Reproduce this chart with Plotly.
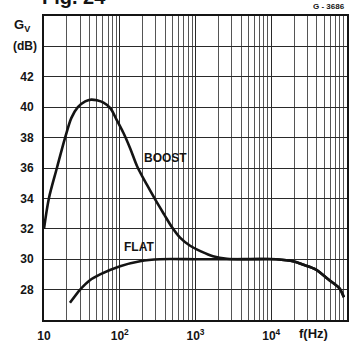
import plotly.graph_objects as go

# ---- data ----
boost_f = [10, 11.6, 14.8, 19, 23, 28, 35, 42, 50, 61, 75, 91, 112, 137, 170, 228, 300, 385, 490, 630, 840,
           1200, 1700, 2600, 5000, 11600, 20000, 26000, 39000, 57000, 79000, 91000]
boost_g = [32, 34, 36, 38, 39.3, 40, 40.38, 40.5, 40.45, 40.3, 39.94, 39.17, 38.3, 37.3, 36.1, 34.9, 33.85, 32.95, 32.1,
           31.4, 30.9, 30.5, 30.2, 30.03, 30.0, 30.0, 29.85, 29.65, 29.32, 28.66, 28.1, 27.5]
flat_f = [22, 30, 40, 55, 101, 185, 340, 1000, 3000, 11600, 20000, 26000, 39000, 57000, 79000, 91000]
flat_g = [27.13, 28.0, 28.6, 29.0, 29.54, 29.87, 30.0, 30.0, 30.0, 30.0, 29.85, 29.65, 29.32, 28.66, 28.1, 27.5]

y_ticks = [28, 30, 32, 34, 36, 38, 40, 42]
x_major = [10, 100, 1000, 10000, 100000]
x_major_text = ["10", "10<sup>2</sup>", "10<sup>3</sup>", "10<sup>4</sup>", ""]
x_minor = [m * d for d in [10, 100, 1000, 10000] for m in range(2, 10)]

INK = "#141414"
FONT = "Liberation Sans"

fig = go.Figure()
fig.add_trace(go.Scatter(x=boost_f, y=boost_g, mode="lines", line=dict(color=INK, width=2.6, shape="spline", smoothing=0.9),
                         showlegend=False, hoverinfo="skip"))
fig.add_trace(go.Scatter(x=flat_f, y=flat_g, mode="lines", line=dict(color=INK, width=2.6, shape="spline", smoothing=0.7),
                         showlegend=False, hoverinfo="skip"))

fig.update_xaxes(type="log", range=[1, 5], tickmode="array", tickvals=x_major, ticktext=x_major_text,
                 showgrid=True, gridcolor="#2a2a2a", gridwidth=1.2,
                 minor=dict(tickmode="array", tickvals=x_minor, showgrid=True, gridcolor="#555555", gridwidth=0.9),
                 showline=True, linecolor=INK, linewidth=2, mirror=True, zeroline=False,
                 ticks="", ticklabelstandoff=4, automargin=False,
                 tickfont=dict(family=FONT, size=12, color=INK, weight="bold"))
fig.update_yaxes(range=[26, 46], tickmode="array", tickvals=y_ticks, ticktext=[str(v) for v in y_ticks],
                 showgrid=True, gridcolor="#2a2a2a", gridwidth=1.4,
                 minor=dict(tickmode="array", tickvals=[44], showgrid=True, gridcolor="#2a2a2a", gridwidth=1.4),
                 showline=True, linecolor=INK, linewidth=2, mirror=True, zeroline=False,
                 ticks="", ticklabelstandoff=6, automargin=False,
                 tickfont=dict(family=FONT, size=12, color=INK, weight="bold"))

ann = [
    dict(text="BOOST", x=2.6, y=36.65, xref="x", yref="y", showarrow=False,
         font=dict(family=FONT, size=12, color=INK, weight="bold")),
    dict(text="FLAT", x=2.25, y=30.8, xref="x", yref="y", showarrow=False,
         font=dict(family=FONT, size=12, color=INK, weight="bold")),
    dict(text="G<sub>V</sub>", x=-0.04, y=45.4, xref="paper", yref="y", xanchor="right", showarrow=False,
         font=dict(family=FONT, size=13, color=INK, weight="bold")),
    dict(text="(dB)", x=-0.015, y=44, xref="paper", yref="y", xanchor="right", showarrow=False,
         font=dict(family=FONT, size=12, color=INK, weight="bold")),
    dict(text="f(Hz)", x=0.945, y=-0.045, xref="paper", yref="paper", yanchor="middle", showarrow=False,
         font=dict(family=FONT, size=13, color=INK, weight="bold")),
    dict(text="G - 3686", x=1.0, y=1.01, xref="paper", yref="paper", xanchor="right", yanchor="bottom", showarrow=False,
         font=dict(family=FONT, size=8, color=INK, weight="bold")),
    dict(text="Fig. 24", x=0.1, y=1.064, xref="paper", yref="paper", xanchor="center", yanchor="middle",
         showarrow=False, font=dict(family=FONT, size=20, color=INK, weight="bold")),
]
fig.update_layout(width=356, height=341, margin=dict(l=44, r=9, t=16, b=21),
                  paper_bgcolor="white", plot_bgcolor="white", annotations=ann)

fig.write_html("out.html")
